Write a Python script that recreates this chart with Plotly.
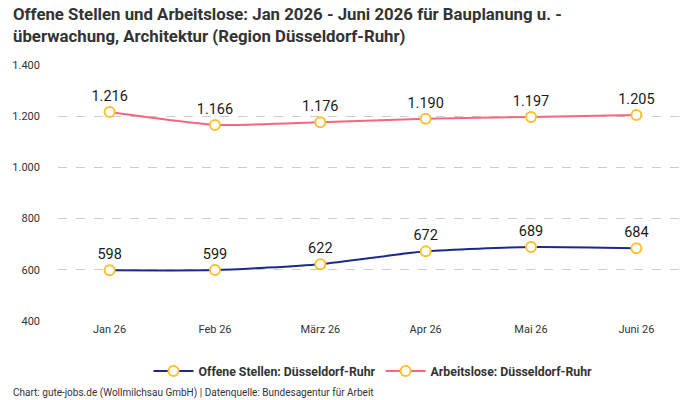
import plotly.graph_objects as go

months = ["Jan 26", "Feb 26", "März 26", "Apr 26", "Mai 26", "Juni 26"]
offene = [598, 599, 622, 672, 689, 684]
arbeitslose = [1216, 1166, 1176, 1190, 1197, 1205]
labels_offene = ["598", "599", "622", "672", "689", "684"]
labels_arbeitslose = ["1.216", "1.166", "1.176", "1.190", "1.197", "1.205"]
yticks = [400, 600, 800, 1000, 1200, 1400]
ytick_text = ["400", "600", "800", "1.000", "1.200", "1.400"]

FONT = "Roboto"
fig = go.Figure()
fig.add_trace(go.Scatter(
    x=months, y=offene, name="<b>Offene Stellen: Düsseldorf-Ruhr</b>",
    mode="lines+markers+text", text=labels_offene, textposition="top center",
    textfont=dict(size=14.5, color="#1a1a1a", family=FONT),
    line=dict(color="#1b2a8a", width=2, shape="spline", smoothing=0.6),
    marker=dict(size=10, color="white", line=dict(color="#fbc02d", width=2)),
))
fig.add_trace(go.Scatter(
    x=months, y=arbeitslose, name="<b>Arbeitslose: Düsseldorf-Ruhr</b>",
    mode="lines+markers+text", text=labels_arbeitslose, textposition="top center",
    textfont=dict(size=14.5, color="#1a1a1a", family=FONT),
    line=dict(color="#f7667f", width=2, shape="spline", smoothing=0.6),
    marker=dict(size=10, color="white", line=dict(color="#fbc02d", width=2)),
))
fig.update_layout(
    width=700, height=400,
    margin=dict(l=55, r=12, t=65, b=79),
    paper_bgcolor="white", plot_bgcolor="white",
    font=dict(family=FONT, color="#333"),
    showlegend=True,
    legend=dict(orientation="h", x=0.5, xanchor="center", y=-0.195, yanchor="middle",
                font=dict(size=12.3, color="#333", family=FONT), itemwidth=40,
                traceorder="normal"),
    xaxis=dict(range=[-0.49, 5.49], showgrid=False, showline=False, ticks="",
               tickfont=dict(size=11, color="#333"), fixedrange=True),
    yaxis=dict(range=[400, 1400], tickvals=yticks, ticktext=ytick_text,
               showgrid=True, gridcolor="#cccccc", griddash="dash", gridwidth=1,
               zeroline=False, showline=False, ticks="", ticklabelstandoff=17,
               tickfont=dict(size=11, color="#333")),
    annotations=[
        dict(
            text="<b>Offene Stellen und Arbeitslose: Jan 2026 - Juni 2026 für Bauplanung u. -<br>überwachung, Architektur (Region Düsseldorf-Ruhr)</b>",
            xref="paper", yref="paper", x=-0.0742, xanchor="left", y=1.246, yanchor="top",
            align="left", showarrow=False,
            font=dict(size=16.8, color="#333", family=FONT),
        ),
        dict(
            text="Chart: gute-jobs.de (Wollmilchsau GmbH) | Datenquelle: Bundesagentur für Arbeit",
            xref="paper", yref="paper", x=-0.0742, xanchor="left", y=-0.281, yanchor="middle",
            showarrow=False, font=dict(size=10, color="#333", family=FONT),
        ),
    ],
)
fig.update_traces(cliponaxis=False)
fig.write_html("out.html")
